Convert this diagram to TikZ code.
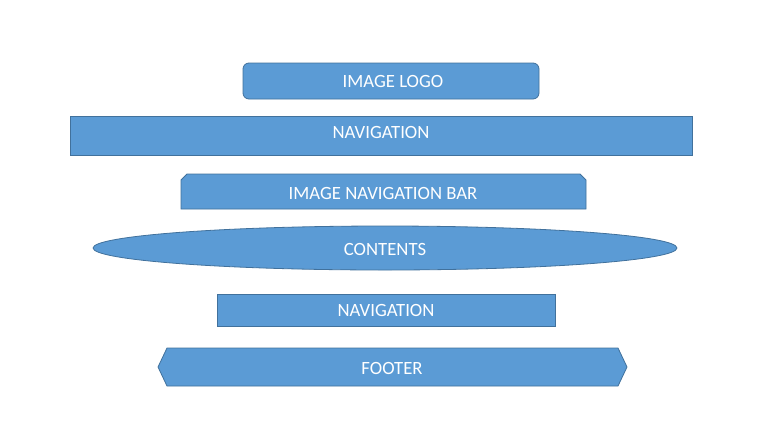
\documentclass[tikz,border=0pt]{standalone}
\usepackage{fontspec}
\setmainfont{Carlito}
\usetikzlibrary{shapes.geometric}
\definecolor{boxfill}{HTML}{5B9BD5}
\definecolor{boxline}{HTML}{41719C}
\begin{document}
\begin{tikzpicture}[x=1pt,y=-1pt,
  shapestyle/.style={fill=boxfill,draw=boxline,line width=0.8pt},
  lbl/.style={text=white,font=\fontsize{18.7}{22}\selectfont,inner sep=0pt}]
\useasboundingbox (0,0) rectangle (757,426);
% image logo
\draw[shapestyle,rounded corners=6pt] (243,63) rectangle (539,99);
\node[lbl] (logo) at (393,81) {IMAGE LOGO};
% navigation top
\draw[shapestyle] (70,116) rectangle (692,155);
\node[lbl] (nav1) at (381,132) {NAVIGATION};
% image navigation bar (snipped top corners)
\draw[shapestyle] (181,209) -- (181,180) -- (187,174) -- (580,174) -- (586,180) -- (586,209) -- cycle;
\node[lbl] (imgnav) at (383,193) {IMAGE NAVIGATION BAR};
% contents ellipse
\draw[shapestyle] (385,248) ellipse [x radius=292,y radius=22];
\node[lbl] (contents) at (385,249) {CONTENTS};
% navigation bottom
\draw[shapestyle] (217,294) rectangle (555,326);
\node[lbl] (nav2) at (386,310) {NAVIGATION};
% footer hexagon
\draw[shapestyle] (158,367) -- (167,348) -- (618,348) -- (627,367) -- (618,386) -- (167,386) -- cycle;
\node[lbl] (footer) at (392,368) {FOOTER};
\end{tikzpicture}
\end{document}
